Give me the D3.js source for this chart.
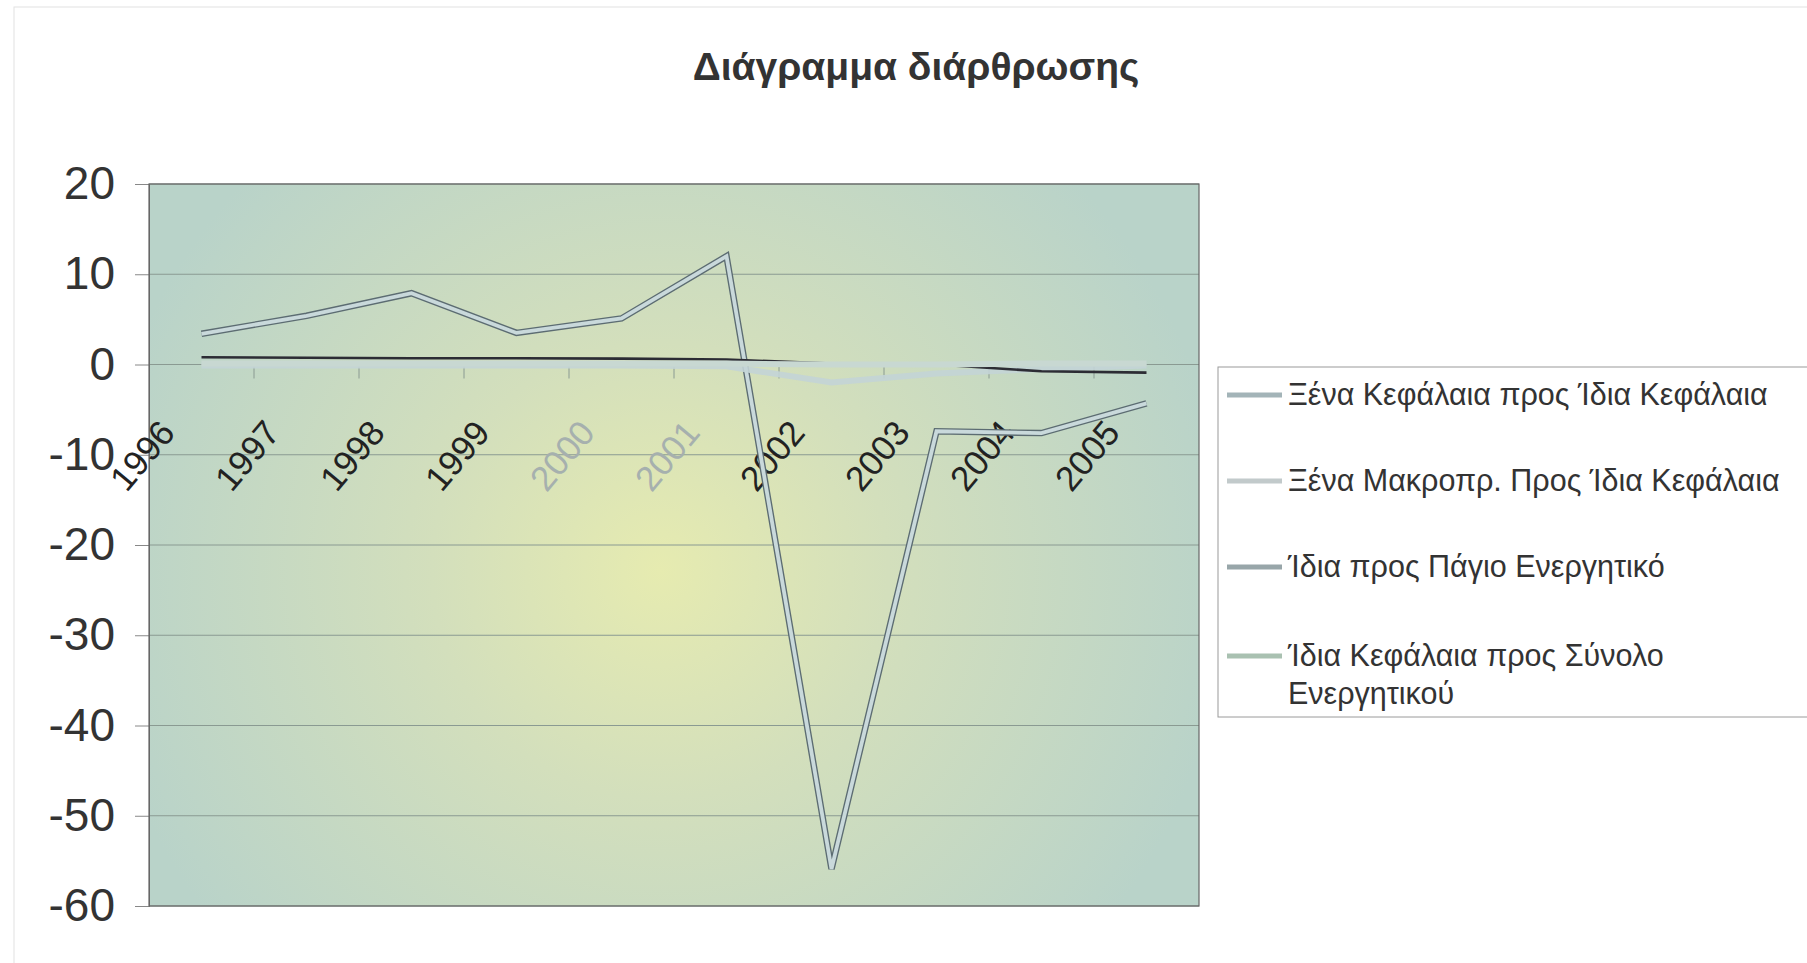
<!DOCTYPE html>
<html>
<head>
<meta charset="utf-8">
<script src="https://cdn.jsdelivr.net/npm/d3@7/dist/d3.min.js"></script>
<style>
  body { margin: 0; background: #fff; }
  svg { display: block; font-family: "Liberation Sans", Arial, sans-serif; }
</style>
</head>
<body>
<svg id="chart" width="1807" height="963"></svg>
<script>
// data
var years = ["1996", "1997", "1998", "1999", "2000", "2001", "2002", "2003", "2004", "2005"];
var seriesNames = [
  "Ξένα Κεφάλαια προς Ίδια Κεφάλαια",
  "Ξένα Μακροπρ. Προς Ίδια Κεφάλαια",
  "Ίδια προς Πάγιο Ενεργητικό",
  "Ίδια Κεφάλαια προς Σύνολο Ενεργητικού"
];
var xenaIdia = [3.4, 5.4, 7.9, 3.5, 5.1, 12.0, -55.9, -7.4, -7.6, -4.3];
var xenaMakro = [-0.1, -0.1, -0.1, -0.1, -0.1, -0.2, -2.0, -1.0, -0.5, -0.1];
var idiaPagio = [0.8, 0.75, 0.7, 0.7, 0.65, 0.55, 0.1, 0.0, -0.75, -0.9];
var idiaSynolo = [0.1, 0.1, 0.1, 0.1, 0.1, 0.1, 0.0, 0.0, 0.1, 0.1];
var yTicks = [20, 10, 0, -10, -20, -30, -40, -50, -60];
var fadedYears = ["2000", "2001"];

var svg = d3.select("#chart");
// note: "top" is taken by window.top, so use other names
var plotL = 149, plotR = 1199, plotT = 184, plotB = 906;

var x = d3.scaleBand().domain(years).range([plotL, plotR]);
var y = d3.scaleLinear().domain([-60, 20]).range([plotB, plotT]);

// faint outer frame
svg.append("rect")
  .attr("x", 14).attr("y", 7).attr("width", 1850).attr("height", 1000)
  .attr("fill", "none").attr("stroke", "#e2e2e2");

// title
svg.append("text")
  .attr("x", 916).attr("y", 80)
  .attr("text-anchor", "middle")
  .attr("font-size", 39).attr("font-weight", "bold")
  .attr("fill", "#333")
  .text("Διάγραμμα διάρθρωσης");

// plot background
var defs = svg.append("defs");
var grad = defs.append("radialGradient").attr("id", "bg")
  .attr("gradientUnits", "userSpaceOnUse")
  .attr("cx", 660).attr("cy", 570).attr("r", 570);
grad.append("stop").attr("offset", "0%").attr("stop-color", "#e6ebb0");
grad.append("stop").attr("offset", "40%").attr("stop-color", "#d3dfbc");
grad.append("stop").attr("offset", "100%").attr("stop-color", "#b9d3c9");

svg.append("rect")
  .attr("x", plotL).attr("y", plotT)
  .attr("width", plotR - plotL).attr("height", plotB - plotT)
  .attr("fill", "url(#bg)");

// grid
svg.append("g").selectAll("line")
  .data(yTicks)
  .enter().append("line")
  .attr("x1", plotL).attr("x2", plotR)
  .attr("y1", d => y(d)).attr("y2", d => y(d))
  .attr("stroke", "#8a9a92").attr("stroke-width", 1);

// y axis
var yAxis = svg.append("g")
  .attr("transform", `translate(${plotL},0)`)
  .call(d3.axisLeft(y).tickValues(yTicks).tickSize(14).tickPadding(20)
    .tickFormat(d => String(d)));
yAxis.select(".domain").attr("stroke", "#666");
yAxis.selectAll(".tick line").attr("stroke", "#888");
yAxis.selectAll(".tick text")
  .attr("font-size", 46).attr("fill", "#333")
  .attr("font-family", "Liberation Sans, Arial, sans-serif");

// plot border
svg.append("rect")
  .attr("x", plotL).attr("y", plotT)
  .attr("width", plotR - plotL).attr("height", plotB - plotT)
  .attr("fill", "none").attr("stroke", "#666").attr("stroke-width", 1.2);

// x tick marks at category boundaries, below the zero line
svg.append("g").selectAll("line")
  .data(years.slice(1))
  .enter().append("line")
  .attr("x1", d => x(d)).attr("x2", d => x(d))
  .attr("y1", y(0) + 2).attr("y2", y(0) + 14)
  .attr("stroke", "#8a9a92");

// x labels, rotated
svg.append("g").selectAll("text")
  .data(years)
  .enter().append("text")
  .attr("transform", d => `translate(${x(d) + x.bandwidth() / 2 - 25},${y(0) + 69}) rotate(-50)`)
  .attr("text-anchor", "end")
  .attr("font-size", 35)
  .attr("fill", d => fadedYears.indexOf(d) >= 0 ? "#a6b0ae" : "#222")
  .text(d => d);

var line = d3.line()
  .x((d, i) => x(years[i]) + x.bandwidth() / 2)
  .y(d => y(d));

var lines = svg.append("g").attr("fill", "none")
  .attr("stroke-linejoin", "miter").attr("stroke-linecap", "butt");

// series 1: pale line with dark edges
lines.append("path").attr("d", line(xenaIdia))
  .attr("stroke", "#5c6c72").attr("stroke-width", 6.5);
lines.append("path").attr("d", line(xenaIdia))
  .attr("stroke", "#c9d9db").attr("stroke-width", 3.8);

// series 2
lines.append("path").attr("d", line(xenaMakro))
  .attr("stroke", "#c3d4d6").attr("stroke-width", 6).attr("opacity", 0.9);

// series 3
lines.append("path").attr("d", line(idiaPagio))
  .attr("stroke", "#2c2c34").attr("stroke-width", 2.6);

// series 4
lines.append("path").attr("d", line(idiaSynolo))
  .attr("stroke", "#c8d8d2").attr("stroke-width", 6);

// legend
var legendColors = ["#a3b4b8", "#c2cacb", "#98a6a9", "#a9c1b1"];
var legend = svg.append("g");
legend.append("rect")
  .attr("x", 1218).attr("y", 367).attr("width", 620).attr("height", 350)
  .attr("fill", "#fff").attr("stroke", "#9a9a9a");

var entryY = [395, 481, 567, 656];
seriesNames.forEach(function (name, i) {
  legend.append("line")
    .attr("x1", 1227).attr("x2", 1282)
    .attr("y1", entryY[i]).attr("y2", entryY[i])
    .attr("stroke", legendColors[i]).attr("stroke-width", 5);
  var t = legend.append("text")
    .attr("x", 1288).attr("y", entryY[i] + 10)
    .attr("font-size", 30.5).attr("fill", "#333");
  if (i === 3) {
    t.append("tspan").attr("x", 1288).text("Ίδια Κεφάλαια προς Σύνολο");
    t.append("tspan").attr("x", 1288).attr("dy", 38).text("Ενεργητικού");
  } else {
    t.text(name);
  }
});
</script>
</body>
</html>
